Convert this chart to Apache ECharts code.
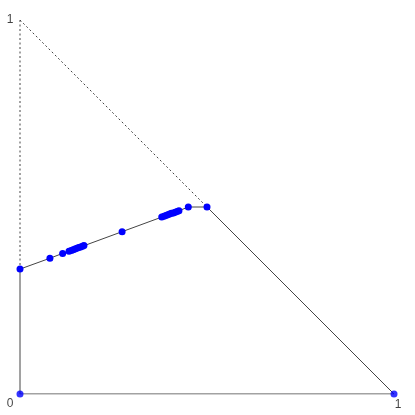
<!DOCTYPE html>
<html><head><meta charset="utf-8">
<script src="https://cdn.jsdelivr.net/npm/echarts@6/dist/echarts.min.js"></script>
<style>html,body{margin:0;padding:0;background:#fff}#c{width:415px;height:415px}</style>
</head><body><div id="c"></div>
<script>
// path points (x, y)
const pathX = [0, 0.080, 0.114, 0.131, 0.137, 0.142, 0.147, 0.152, 0.157, 0.162, 0.167, 0.171, 0.273, 0.379, 0.385, 0.390, 0.395, 0.400, 0.405, 0.410, 0.415, 0.420, 0.425, 0.450, 0.500];
const pathY = [0.334, 0.363, 0.376, 0.382, 0.384, 0.386, 0.388, 0.390, 0.392, 0.393, 0.395, 0.397, 0.434, 0.473, 0.475, 0.477, 0.479, 0.481, 0.483, 0.484, 0.486, 0.488, 0.490, 0.500, 0.500];
const cornerPts = [[0, 0], [1, 0]];
const solidEdges = [
  [[0, 0], [0, 0.334]],
  [[0, 0], [1, 0]],
  [[0.5, 0.5], [1, 0]]
];
const dashedEdges = [
  [[0, 1], [0, 0.334]],
  [[0, 1], [0.5, 0.5]]
];
const tickLabels = [
  {pos: [0, 0], text: '0', offset: [-10, 10]},
  {pos: [1, 0], text: '1', offset: [4, 11]},
  {pos: [0, 1], text: '1', offset: [-10, 0]}
];

const lineColor = '#444';
const series = [];
solidEdges.forEach(e => series.push({type: 'line', data: e, symbol: 'none', silent: true,
  lineStyle: {color: lineColor, width: 1}, z: 1}));
dashedEdges.forEach(e => series.push({type: 'line', data: e, symbol: 'none', silent: true,
  lineStyle: {color: lineColor, width: 1, type: [2, 2.5]}, z: 1}));
series.push({type: 'line', data: pathX.map((x, i) => [x, pathY[i]]), symbol: 'circle', symbolSize: 7,
  showAllSymbol: true, lineStyle: {color: lineColor, width: 1}, itemStyle: {color: '#0000ff'}, z: 2});
series.push({type: 'scatter', data: cornerPts, symbolSize: 7, itemStyle: {color: '#0000ff'}, z: 3});
series.push({type: 'scatter', symbolSize: 0, silent: true,
  data: tickLabels.map(t => ({value: t.pos, label: {show: true, formatter: t.text, offset: t.offset,
    position: 'inside', color: '#111', fontSize: 12, fontFamily: 'Liberation Sans'}}))});

const chart = echarts.init(document.getElementById('c'));
chart.setOption({
  animation: false,
  grid: {left: 20, right: 21, top: 20, bottom: 21},
  xAxis: {type: 'value', min: 0, max: 1, show: false},
  yAxis: {type: 'value', min: 0, max: 1, show: false},
  series: series
});
</script></body></html>
